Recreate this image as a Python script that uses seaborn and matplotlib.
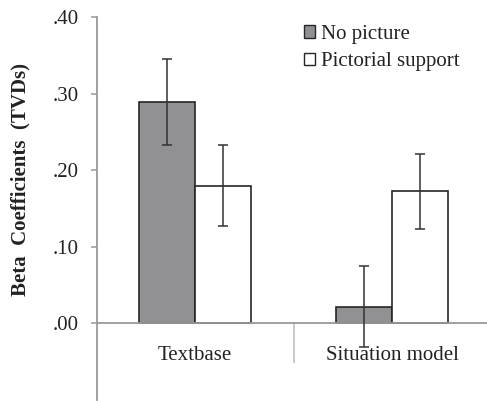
import matplotlib
matplotlib.use("Agg")
import matplotlib.pyplot as plt
import seaborn as sns
import pandas as pd
import numpy as np
from matplotlib.patches import Patch
from matplotlib.ticker import FixedLocator, FuncFormatter

categories = ["Textbase", "Situation model"]
conditions = ["No picture", "Pictorial support"]
no_picture = [0.289, 0.022]
pictorial = [0.180, 0.173]
no_picture_err_low = [0.233, -0.031]
no_picture_err_high = [0.345, 0.075]
pictorial_err_low = [0.127, 0.123]
pictorial_err_high = [0.233, 0.221]
y_ticks = [0.0, 0.1, 0.2, 0.3, 0.4]
y_label = "Beta  Coefficients  (TVDs)"

sns.set_theme(style="white")
plt.rcParams['font.family'] = ['Liberation Serif', 'DejaVu Serif']

df = pd.DataFrame({
    "category": categories * 2,
    "condition": [conditions[0]] * 2 + [conditions[1]] * 2,
    "value": no_picture + pictorial,
})
lows = no_picture_err_low + pictorial_err_low
highs = no_picture_err_high + pictorial_err_high

fig = plt.figure(figsize=(4.87, 4.01), dpi=100)
ax = fig.add_axes([96.5 / 487, 1 / 401, 394 / 487, 383 / 401])

colors = {"No picture": "#909094", "Pictorial support": "#ffffff"}
sns.barplot(data=df, x="category", y="value", hue="condition", order=categories,
            hue_order=conditions, palette=colors, width=0.572, gap=0,
            errorbar=None, edgecolor="#262626", linewidth=1.2, ax=ax, legend=False)

# error bars at bar centers
bars = [p for p in ax.patches]
for i, p in enumerate(bars[:4]):
    xc = p.get_x() + p.get_width() / 2
    v = df["value"].iloc[i]
    ax.errorbar([xc], [v], yerr=[[v - lows[i]], [highs[i] - v]], fmt="none",
                ecolor="#333333", elinewidth=1.1, capsize=3.3, capthick=1.1, zorder=5)

ax.set_xlim(-0.5, 1.5)
ax.set_ylim(-0.1, 0.4)

for s in ["top", "right"]:
    ax.spines[s].set_visible(False)
ax.spines["left"].set_color("#999999")
ax.spines["left"].set_linewidth(1.3)
ax.spines["bottom"].set_color("#999999")
ax.spines["bottom"].set_linewidth(1.3)
ax.spines["bottom"].set_position(("data", 0))

ax.yaxis.set_major_locator(FixedLocator(y_ticks))
ax.yaxis.set_major_formatter(FuncFormatter(lambda v, pos: ("%.2f" % v)[1:] if v >= 0 else "%.2f" % v))
ax.tick_params(axis="y", which="major", direction="out", length=4.5, width=1.1,
               color="#999999", labelsize=15, pad=8.5, left=True, labelcolor="#222222")

ax.set_xticks([0, 1])
ax.set_xticklabels(categories)
ax.xaxis.set_minor_locator(FixedLocator([0.5]))
ax.tick_params(axis="x", which="major", length=0, labelsize=15, pad=16, labelcolor="#222222")
ax.tick_params(axis="x", which="minor", direction="out", length=29, width=1.1,
               color="#bbbbbb", bottom=True)

ax.set_xlabel("")
ax.set_ylabel(y_label, fontsize=15, fontweight="bold", color="#222222")
ax.yaxis.set_label_coords(-0.168, 0.575)

handles = [Patch(facecolor=colors[c], edgecolor="#262626", linewidth=1.0) for c in conditions]
fig.legend(handles, conditions, loc="upper left", bbox_to_anchor=(304 / 487, 1 - 25 / 401),
           frameon=False, fontsize=15, handlelength=0.55, handleheight=0.55,
           handletextpad=0.25, borderpad=0, borderaxespad=0, labelspacing=0.4,
           labelcolor="#222222")

fig.savefig("out.png", dpi=100)
